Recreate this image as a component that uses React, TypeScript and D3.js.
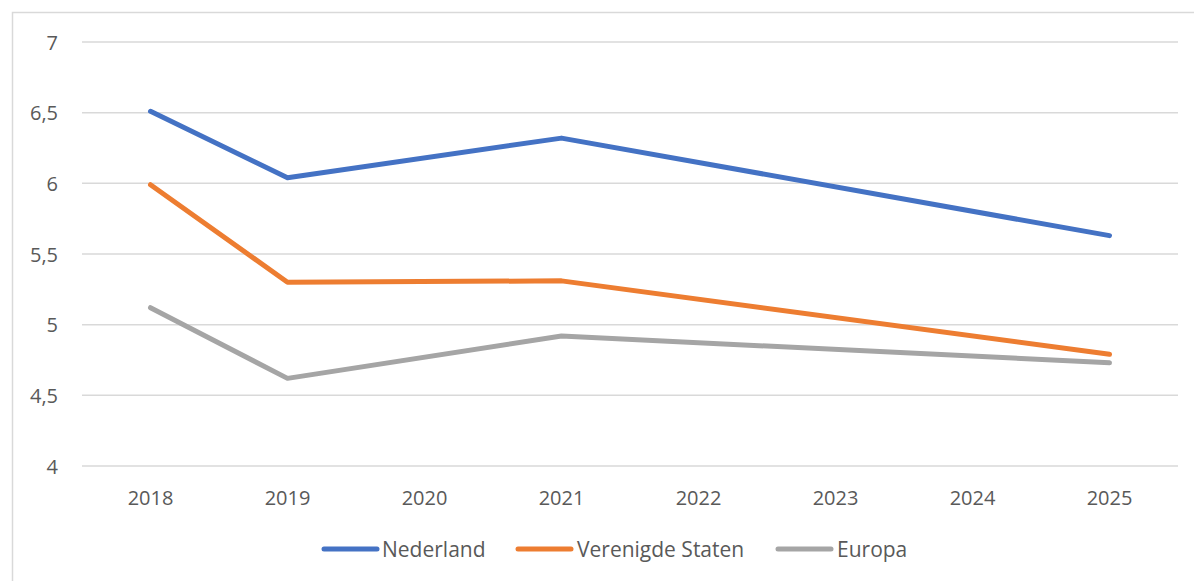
import React from "react";
import * as d3 from "d3";

const years = ["2018", "2019", "2020", "2021", "2022", "2023", "2024", "2025"];
const nederland: (number | null)[] = [6.51, 6.04, null, 6.32, null, null, null, 5.63];
const verenigdeStaten: (number | null)[] = [5.99, 5.3, null, 5.31, null, null, null, 4.79];
const europa: (number | null)[] = [5.12, 4.62, null, 4.92, null, null, null, 4.73];
const yTicks = [4, 4.5, 5, 5.5, 6, 6.5, 7];

const series = [
  { name: "Nederland", values: nederland, color: "#4472C4" },
  { name: "Verenigde Staten", values: verenigdeStaten, color: "#ED7D31" },
  { name: "Europa", values: europa, color: "#A5A5A5" },
];

const W = 1194;
const H = 581;
const plotLeft = 82;
const plotRight = 1178;
const plotTop = 42;
const plotBottom = 466;
const font = "'Open Sans', sans-serif";
const textColor = "#595959";

export default function App() {
  const x = d3.scaleBand<string>().domain(years).range([plotLeft, plotRight]);
  const y = d3.scaleLinear().domain([4, 7]).range([plotBottom, plotTop]);
  const fmt = (v: number) => String(v).replace(".", ",");

  const line = d3
    .line<{ year: string; v: number }>()
    .x((d) => (x(d.year) as number) + x.bandwidth() / 2)
    .y((d) => y(d.v));

  const legendItems = [
    { lineX: 324, textX: 382 },
    { lineX: 518, textX: 577 },
    { lineX: 778, textX: 837 },
  ];
  const legendY = 549;

  return (
    <svg
      width={W}
      height={H}
      style={{ position: "absolute", left: 0, top: 0, background: "#fff" }}
    >
      <rect x={0} y={0} width={W} height={H} fill="#fff" />
      <rect x={12.5} y={12.5} width={1300} height={700} fill="none" stroke="#d9d9d9" strokeWidth={1.5} />
      {yTicks.map((t) => (
        <g key={t}>
          <line x1={plotLeft} x2={plotRight} y1={y(t)} y2={y(t)} stroke="#d9d9d9" strokeWidth={1.5} />
          <text
            x={58}
            y={y(t)}
            textAnchor="end"
            dominantBaseline="central"
            fontFamily={font}
            fontSize={20}
            fill={textColor}
          >
            {fmt(t)}
          </text>
        </g>
      ))}
      {years.map((yr) => (
        <text
          key={yr}
          x={(x(yr) as number) + x.bandwidth() / 2}
          y={497}
          textAnchor="middle"
          dominantBaseline="central"
          fontFamily={font}
          fontSize={20}
          fill={textColor}
        >
          {yr}
        </text>
      ))}
      {series.map((s) => {
        const pts = years
          .map((yr, i) => ({ year: yr, v: s.values[i] }))
          .filter((d) => d.v !== null) as { year: string; v: number }[];
        return (
          <path
            key={s.name}
            d={line(pts) || ""}
            fill="none"
            stroke={s.color}
            strokeWidth={5}
            strokeLinejoin="round"
            strokeLinecap="round"
          />
        );
      })}
      {series.map((s, i) => (
        <g key={s.name}>
          <line
            x1={legendItems[i].lineX}
            x2={legendItems[i].lineX + 53}
            y1={legendY}
            y2={legendY}
            stroke={s.color}
            strokeWidth={5}
            strokeLinecap="round"
          />
          <text
            x={legendItems[i].textX}
            y={legendY}
            dominantBaseline="central"
            fontFamily={font}
            fontSize={21}
            fill={textColor}
          >
            {s.name}
          </text>
        </g>
      ))}
    </svg>
  );
}
